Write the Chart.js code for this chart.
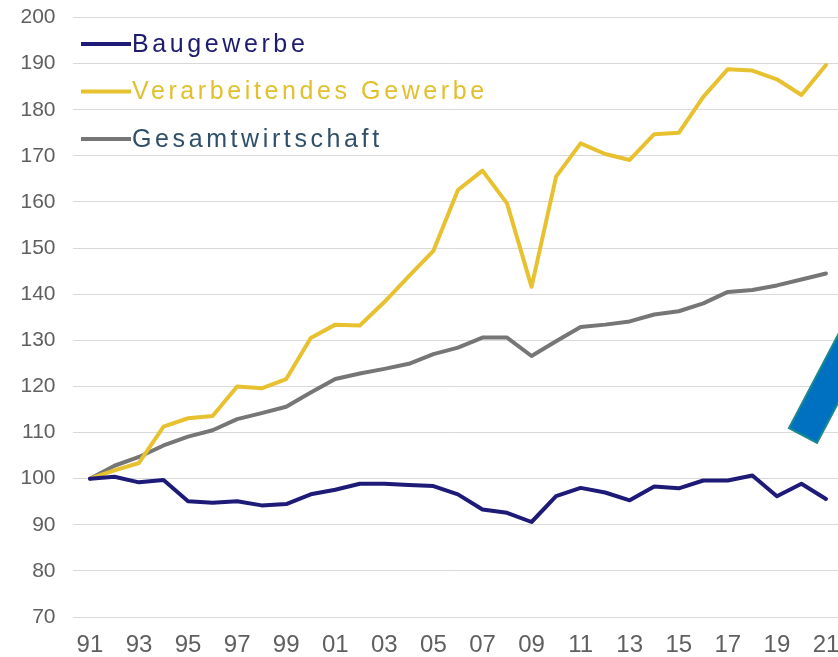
<!DOCTYPE html>
<html>
<head>
<meta charset="utf-8">
<script src="https://cdn.jsdelivr.net/npm/chart.js@4"></script>
<style>
  html, body { margin: 0; padding: 0; background: #fff; }
  #wrap { width: 838px; height: 657px; position: relative; }
</style>
</head>
<body>
<div id="wrap"><canvas id="graphCanvas"></canvas></div>
<script>
// Index 1991 = 100
const years = [1991, 1992, 1993, 1994, 1995, 1996, 1997, 1998, 1999, 2000,
  2001, 2002, 2003, 2004, 2005, 2006, 2007, 2008, 2009, 2010,
  2011, 2012, 2013, 2014, 2015, 2016, 2017, 2018, 2019, 2020, 2021];
const tickYears = [1991, 1993, 1995, 1997, 1999, 2001, 2003, 2005,
  2007, 2009, 2011, 2013, 2015, 2017, 2019, 2021];
const tickLabels = ["91", "93", "95", "97", "99", "01", "03", "05",
  "07", "09", "11", "13", "15", "17", "19", "21"];

const baugewerbe = [100, 100.4, 99.2, 99.7, 95.1, 94.8, 95.1, 94.2, 94.5, 96.6,
  97.6, 98.9, 98.9, 98.6, 98.4, 96.6, 93.3, 92.6, 90.6, 96.2,
  98.0, 97.0, 95.3, 98.3, 97.9, 99.6, 99.6, 100.7, 96.2, 98.9, 95.6];
const verarbeitendes = [100, 101.8, 103.4, 111.3, 113.1, 113.6, 120.0, 119.6, 121.6, 130.5,
  133.4, 133.2, 138.3, 143.9, 149.4, 162.6, 166.8, 159.7, 141.6, 165.5,
  172.7, 170.4, 169.1, 174.7, 175.0, 182.8, 188.8, 188.5, 186.6, 183.2, 189.7];
const gesamt = [100, 102.8, 104.7, 107.2, 109.1, 110.5, 112.9, 114.2, 115.6, 118.7,
  121.6, 122.8, 123.8, 124.9, 127.0, 128.4, 130.6, 130.6, 126.6, 129.8,
  132.9, 133.4, 134.1, 135.6, 136.3, 138.0, 140.5, 140.9, 141.9, 143.2, 144.5];

const legendTextColors = ["#1f1c70", "#e3bf2c", "#2f4f6a"];

Chart.defaults.font.family = "'Liberation Sans', Arial, sans-serif";

function toPoints(values) {
  return values.map((v, i) => ({ x: years[i], y: v }));
}

// Legende (Linie direkt vor dem Text) und blauer Pfeil rechts
const overlay = {
  id: "overlay",
  afterDraw(chart) {
    const ctx = chart.ctx;
    ctx.save();
    ctx.beginPath();
    ctx.moveTo(789, 428);
    ctx.lineTo(817, 443);
    ctx.lineTo(877, 329);
    ctx.lineTo(849, 314);
    ctx.closePath();
    ctx.fillStyle = "#0070c0";
    ctx.fill();
    ctx.strokeStyle = "#1b8a8c";
    ctx.lineWidth = 2;
    ctx.stroke();

    ctx.font = "25px 'Liberation Sans', Arial, sans-serif";
    ctx.letterSpacing = "3.6px";
    ctx.textBaseline = "middle";
    chart.data.datasets.forEach((ds, i) => {
      const y = 44 + i * 47.5;
      ctx.strokeStyle = ds.borderColor;
      ctx.lineWidth = 4;
      ctx.beginPath();
      ctx.moveTo(81, y);
      ctx.lineTo(131, y);
      ctx.stroke();
      ctx.fillStyle = legendTextColors[i];
      ctx.fillText(ds.label, 132, y + 1);
    });
    ctx.restore();
  },
};

let ctx = document.getElementById("graphCanvas").getContext("2d");
let data = {
  datasets: [
    {
      label: "Baugewerbe",
      data: toPoints(baugewerbe),
      borderColor: "#1e1b78",
    },
    {
      label: "Verarbeitendes Gewerbe",
      data: toPoints(verarbeitendes),
      borderColor: "#e8c130",
    },
    {
      label: "Gesamtwirtschaft",
      data: toPoints(gesamt),
      borderColor: "#767676",
    },
  ],
};
let options = {
  animation: false,
  responsive: true,
  maintainAspectRatio: false,
  layout: { padding: { left: 20, top: 17.5, right: 0, bottom: 0 } },
  elements: {
    point: { radius: 0 },
    line: { tension: 0, borderWidth: 4, borderJoinStyle: "round", borderCapStyle: "round" },
  },
  scales: {
    x: {
      type: "linear",
      min: 1990.29,
      max: 2021.49,
      afterBuildTicks: (axis) => {
        axis.ticks = tickYears.map((v) => ({ value: v }));
      },
      afterFit: (axis) => {
        axis.paddingLeft = 0;
        axis.paddingRight = 0;
        axis.height = 40;
      },
      grid: { display: false, drawTicks: false },
      border: { display: false },
      ticks: {
        padding: 16.5,
        color: "#5f5f5f",
        autoSkip: false,
        maxRotation: 0,
        font: { size: 24, lineHeight: 1 },
        callback: (v) => tickLabels[tickYears.indexOf(v)],
      },
    },
    y: {
      min: 70,
      max: 200,
      afterFit: (axis) => {
        axis.paddingTop = 0;
        axis.paddingBottom = 0;
        axis.width = 52.5;
      },
      border: { display: false },
      grid: { color: "#d9d9d9", lineWidth: 1, drawTicks: false },
      ticks: {
        stepSize: 10,
        padding: 17,
        color: "#5f5f5f",
        font: { size: 21 },
      },
    },
  },
  plugins: {
    legend: { display: false },
    tooltip: { enabled: false },
  },
};
let graphChart = new Chart(ctx, {
  type: "line",
  data: data,
  options: options,
  plugins: [overlay],
});
</script>
</body>
</html>
